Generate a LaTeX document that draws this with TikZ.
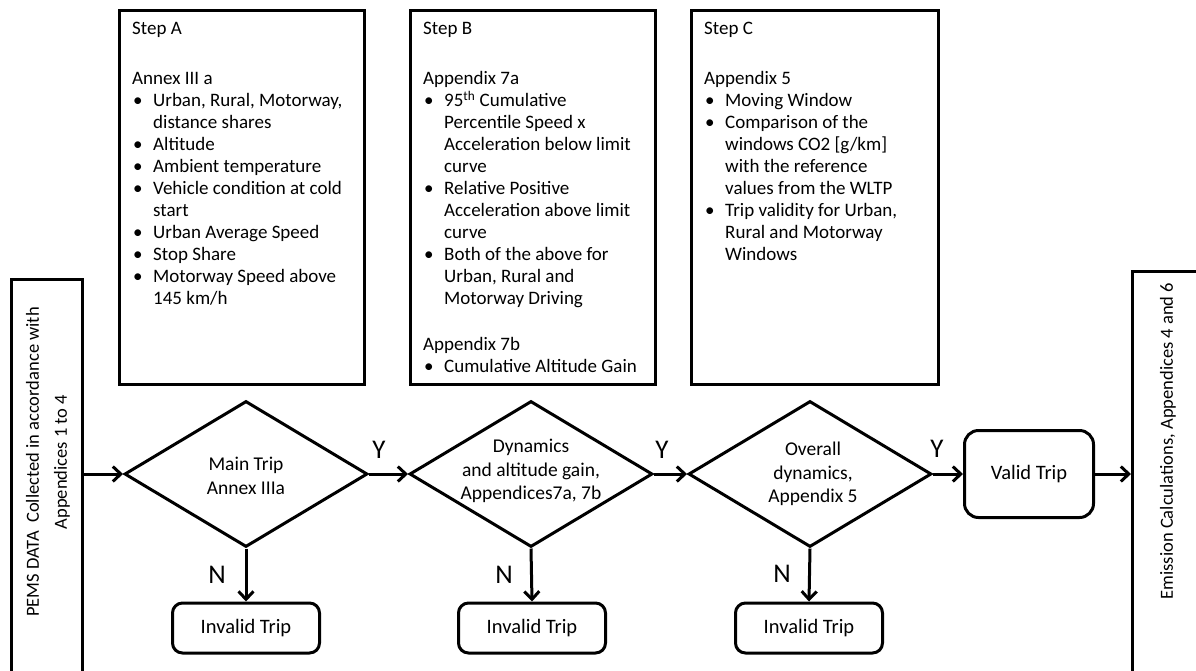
\documentclass[tikz,border=0pt]{standalone}
\usepackage{fontspec}
\setmainfont{Carlito}
\usetikzlibrary{shapes.geometric,arrows.meta}
\newcommand\itm{\makebox[21pt][l]{\hspace{1pt}•}}
\newcommand\cnt{\hspace*{21pt}}
\begin{document}
\begin{tikzpicture}[x=1pt,y=-1pt,
  frame/.style={draw, line width=3pt, rectangle, inner sep=0pt},
  decision/.style={draw, diamond, line width=3pt, inner sep=0pt,
    minimum width=243pt, minimum height=146pt},
  tripbox/.style={draw, line width=3pt, rectangle, rounded corners=10pt,
    inner sep=0pt, font=\fontsize{20.5}{24}\selectfont},
  body/.style={font=\fontsize{19}{22}\selectfont, align=left, inner sep=0pt,
    anchor=north west},
  ctext/.style={font=\fontsize{19.5}{23.5}\selectfont, align=center, inner sep=0pt},
  side/.style={font=\fontsize{18.5}{28}\selectfont, align=center, inner sep=0pt, rotate=90},
  yn/.style={font=\fontsize{27}{30}\selectfont, inner sep=0pt},
  flow/.style={line width=3pt, -{Straight Barb[length=8pt,width=15pt]}}
]
\clip (0,0) rectangle (1196,670);

% side boxes (run off the page edge)
\node[frame, anchor=north west, minimum width=71pt, minimum height=430pt] (pems) at (10,278) {};
\node[side] (pemstxt) at (48,462)
  {PEMS DATA\ \ Collected in accordance with\\ Appendices 1 to 4};
\node[frame, anchor=north west, minimum width=100pt, minimum height=440pt] (emis) at (1131,270) {};
\node[side] (emistxt) at (1168,441) {Emission Calculations, Appendices 4 and 6};

% step description boxes
\node[frame, anchor=north west, minimum width=245pt, minimum height=374pt] (stepA) at (118,9) {};
\node[frame, anchor=north west, minimum width=245pt, minimum height=374pt] (stepB) at (409,9) {};
\node[frame, anchor=north west, minimum width=247pt, minimum height=374pt] (stepC) at (690,9) {};

\node[body] (txtA) at (132,22) {Step A\\[28pt]
Annex III a\\
\itm Urban, Rural, Motorway,\\
\cnt distance shares\\
\itm Altitude\\
\itm Ambient temperature\\
\itm Vehicle condition at cold\\
\cnt start\\
\itm Urban Average Speed\\
\itm Stop Share\\
\itm Motorway Speed above\\
\cnt 145 km/h};

\node[body] (txtB) at (423,22) {Step B\\[28pt]
Appendix 7a\\
\itm 95\textsuperscript{th} Cumulative\\
\cnt Percentile Speed x\\
\cnt Acceleration below limit\\
\cnt curve\\
\itm Relative Positive\\
\cnt Acceleration above limit\\
\cnt curve\\
\itm Both of the above for\\
\cnt Urban, Rural and\\
\cnt Motorway Driving\\[24pt]
Appendix 7b\\
\itm Cumulative Altitude Gain};

\node[body] (txtC) at (704,22) {Step C\\[28pt]
Appendix 5\\
\itm Moving Window\\
\itm Comparison of the\\
\cnt windows CO2 [g/km]\\
\cnt with the reference\\
\cnt values from the WLTP\\
\itm Trip validity for Urban,\\
\cnt Rural and Motorway\\
\cnt Windows};

% decisions
\node[decision] (d1) at (246,474) {};
\node[decision] (d2) at (531,474) {};
\node[decision] (d3) at (810,474) {};
\node[ctext] (d1t) at (246,476) {Main Trip\\Annex IIIa};
\node[ctext] (d2t) at (531,471) {Dynamics\\and altitude gain,\\Appendices7a, 7b};
\node[ctext] (d3t) at (813,474) {Overall\\dynamics,\\Appendix 5};

% outcomes
\node[tripbox, minimum width=147pt, minimum height=50pt] (inv1) at (246,628) {Invalid Trip};
\node[tripbox, minimum width=147pt, minimum height=50pt] (inv2) at (532,628) {Invalid Trip};
\node[tripbox, minimum width=147pt, minimum height=50pt] (inv3) at (809,628) {Invalid Trip};
\node[tripbox, rounded corners=14pt, minimum width=129pt, minimum height=87pt] (valid) at (1029,474) {Valid Trip};

% connectors
\draw[flow] (pems.east |- d1.west) -- (d1.west);
\draw[flow] (d1.east) -- (d2.west);
\draw[flow] (d2.east) -- (d3.west);
\draw[flow] (d3.east) -- (valid.west);
\draw[flow] (valid.east) -- (valid.east -| emis.west);
\draw[flow] (d1.south) -- (inv1.north);
\draw[flow] (d2.south) -- (inv2.north);
\draw[flow] (d3.south) -- (inv3.north);

% branch labels
\node[yn] (y1) at (379,450) {Y};
\node[yn] (y2) at (662,450) {Y};
\node[yn] (y3) at (937,449) {Y};
\node[yn] (n1) at (217,575) {N};
\node[yn] (n2) at (504,575) {N};
\node[yn] (n3) at (782,574) {N};
\end{tikzpicture}
\end{document}
